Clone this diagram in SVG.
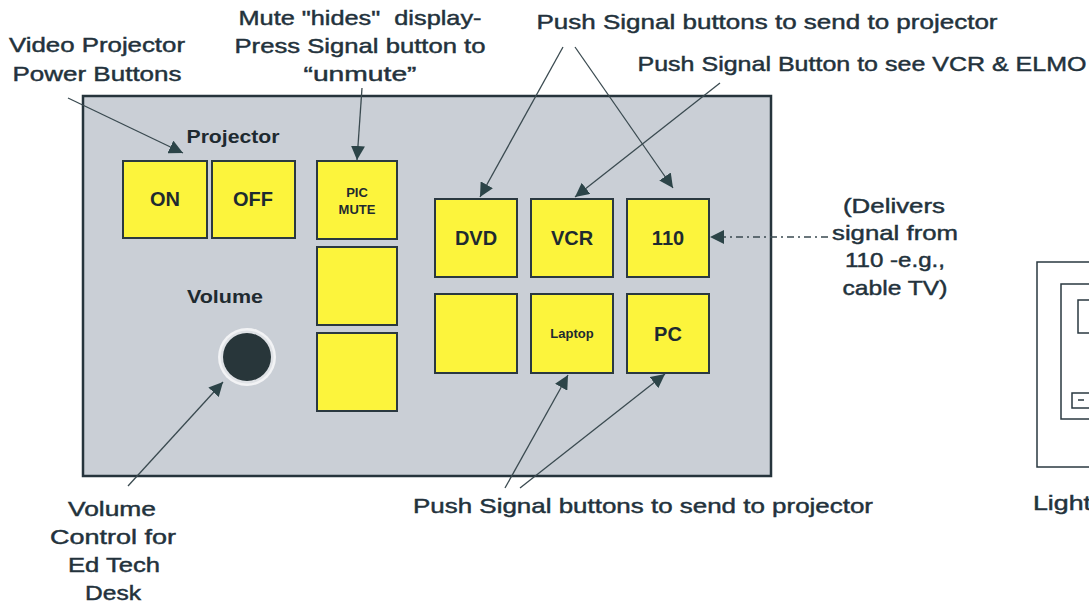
<svg xmlns="http://www.w3.org/2000/svg" width="1089" height="606" viewBox="0 0 1089 606">
<style>
.ann{font-family:"Liberation Sans",Arial,sans-serif;font-size:21px;fill:#23323c;text-anchor:middle;stroke:#23323c;stroke-width:0.45;white-space:pre}
.lbl{font-family:"Liberation Sans",Arial,sans-serif;font-weight:bold;fill:#1e2a30;text-anchor:middle}
.btn{fill:#fcf43c;stroke:#2a3840;stroke-width:2}
.con{stroke:#3a4a50;stroke-width:1.3;fill:none}
.sw{fill:none;stroke:#2a3840;stroke-width:1.5}
</style>
<defs>
<marker id="ah" markerUnits="userSpaceOnUse" markerWidth="15" markerHeight="14" refX="14" refY="7" orient="auto">
<path d="M0,0 L14,7 L0,14 z" fill="#2c4448"/>
</marker>
</defs>
<rect width="1089" height="606" fill="#ffffff"/>
<g id="panel">
<rect x="83" y="96" width="688" height="380" fill="#cacfd6" stroke="#26343c" stroke-width="2.5"/>
<text class="lbl" x="233" y="143" font-size="19" textLength="93" lengthAdjust="spacingAndGlyphs">Projector</text>
<text class="lbl" x="225" y="303" font-size="19" textLength="76" lengthAdjust="spacingAndGlyphs">Volume</text>
</g>
<g id="btn-on"><rect class="btn" x="123" y="161" width="84" height="77"/><text class="lbl" x="165" y="206" font-size="20">ON</text></g>
<g id="btn-off"><rect class="btn" x="212" y="161" width="83" height="77"/><text class="lbl" x="253" y="206" font-size="20">OFF</text></g>
<g id="btn-picmute"><rect class="btn" x="317" y="161" width="80" height="78"/><text class="lbl" x="357" y="197" font-size="13">PIC</text><text class="lbl" x="357" y="214" font-size="13">MUTE</text></g>
<g id="btn-blank1"><rect class="btn" x="317" y="247" width="80" height="78"/></g>
<g id="btn-blank2"><rect class="btn" x="317" y="333" width="80" height="78"/></g>
<g id="btn-dvd"><rect class="btn" x="435" y="199" width="82" height="78"/><text class="lbl" x="476" y="245" font-size="20">DVD</text></g>
<g id="btn-vcr"><rect class="btn" x="531" y="199" width="82" height="78"/><text class="lbl" x="572" y="245" font-size="20">VCR</text></g>
<g id="btn-110"><rect class="btn" x="627" y="199" width="82" height="78"/><text class="lbl" x="668" y="245" font-size="20">110</text></g>
<g id="btn-blank3"><rect class="btn" x="435" y="294" width="82" height="79"/></g>
<g id="btn-laptop"><rect class="btn" x="531" y="294" width="82" height="79"/><text class="lbl" x="572" y="338" font-size="13">Laptop</text></g>
<g id="btn-pc"><rect class="btn" x="627" y="294" width="82" height="79"/><text class="lbl" x="668" y="341" font-size="20">PC</text></g>
<g id="knob">
<circle cx="247" cy="357" r="29" fill="#f2f3f5"/>
<circle cx="247" cy="357" r="26.5" fill="#dfe2e6"/>
<circle cx="247" cy="357" r="24" fill="#28363a"/>
</g>
<g id="light-switch">
<rect class="sw" x="1037" y="262" width="60" height="205"/>
<rect class="sw" x="1061" y="284" width="40" height="135"/>
<rect class="sw" x="1078" y="300" width="20" height="33"/>
<rect class="sw" x="1072" y="393" width="25" height="15"/>
<line x1="1078" y1="400" x2="1084" y2="400" stroke="#2a3840" stroke-width="1.5"/>
</g>
<g id="connectors">
<line class="con" x1="68" y1="98" x2="183" y2="153" marker-end="url(#ah)"/>
<line class="con" x1="362" y1="88" x2="357" y2="160" marker-end="url(#ah)"/>
<line class="con" x1="563" y1="47" x2="480" y2="197" marker-end="url(#ah)"/>
<line class="con" x1="575" y1="47" x2="673" y2="188" marker-end="url(#ah)"/>
<line class="con" x1="720" y1="83" x2="575" y2="197" marker-end="url(#ah)"/>
<line class="con" x1="128" y1="486" x2="223" y2="382" marker-end="url(#ah)"/>
<line class="con" x1="505" y1="488" x2="568" y2="375" marker-end="url(#ah)"/>
<line class="con" x1="520" y1="488" x2="665" y2="374" marker-end="url(#ah)"/>
<line class="con" x1="828" y1="237" x2="710" y2="237" stroke-dasharray="7 4 2 4" marker-end="url(#ah)"/>
</g>
<g id="annotations">
<text class="ann" x="97" y="52" textLength="176" lengthAdjust="spacingAndGlyphs">Video Projector</text>
<text class="ann" x="97" y="81" textLength="169" lengthAdjust="spacingAndGlyphs">Power Buttons</text>
<text class="ann" x="360" y="25" textLength="243" lengthAdjust="spacingAndGlyphs">Mute "hides"  display-</text>
<text class="ann" x="360" y="53" textLength="251" lengthAdjust="spacingAndGlyphs">Press Signal button to</text>
<text class="ann" x="360" y="81" textLength="113" lengthAdjust="spacingAndGlyphs">“unmute”</text>
<text class="ann" x="767" y="29" textLength="461" lengthAdjust="spacingAndGlyphs">Push Signal buttons to send to projector</text>
<text class="ann" x="862" y="71" textLength="449" lengthAdjust="spacingAndGlyphs">Push Signal Button to see VCR &amp; ELMO</text>
<text class="ann" x="894" y="213" textLength="102" lengthAdjust="spacingAndGlyphs">(Delivers</text>
<text class="ann" x="895" y="240" textLength="126" lengthAdjust="spacingAndGlyphs">signal from</text>
<text class="ann" x="895" y="267" textLength="100" lengthAdjust="spacingAndGlyphs">110 -e.g.,</text>
<text class="ann" x="895" y="295" textLength="105" lengthAdjust="spacingAndGlyphs">cable TV)</text>
<text class="ann" x="643" y="513" textLength="460" lengthAdjust="spacingAndGlyphs">Push Signal buttons to send to projector</text>
<text class="ann" x="112" y="516" textLength="88" lengthAdjust="spacingAndGlyphs">Volume</text>
<text class="ann" x="113" y="544" textLength="126" lengthAdjust="spacingAndGlyphs">Control for</text>
<text class="ann" x="114" y="572" textLength="92" lengthAdjust="spacingAndGlyphs">Ed Tech</text>
<text class="ann" x="113" y="600" textLength="56" lengthAdjust="spacingAndGlyphs">Desk</text>
<text class="ann" x="1033" y="510" style="text-anchor:start" textLength="58" lengthAdjust="spacingAndGlyphs">Light</text>
</g>
</svg>
